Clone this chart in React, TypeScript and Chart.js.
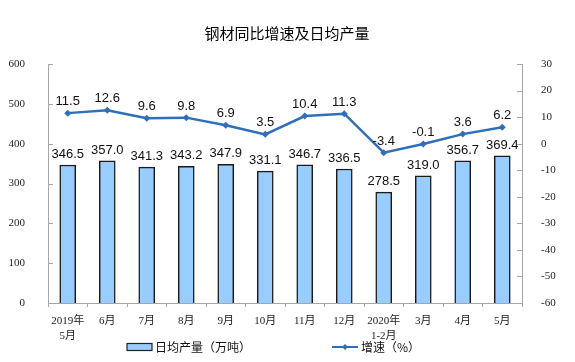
import React, { useEffect, useRef } from "react";
import { Chart, registerables } from "chart.js";

Chart.register(...registerables);

const categories: (string | string[])[] = [
  ["2019年", "5月"], "6月", "7月", "8月", "9月", "10月", "11月", "12月",
  ["2020年", "1-2月"], "3月", "4月", "5月",
];
const output = [346.5, 357.0, 341.3, 343.2, 347.9, 331.1, 346.7, 336.5, 278.5, 319.0, 356.7, 369.4];
const growth = [11.5, 12.6, 9.6, 9.8, 6.9, 3.5, 10.4, 11.3, -3.4, -0.1, 3.6, 6.2];
const title = "钢材同比增速及日均产量";
const barLegend = "日均产量（万吨）";
const lineLegend = "增速（%）";

const BAR_FILL = "#99CCFF";
const LINE_COLOR = "#2F6EBA";
const AXIS_COLOR = "#A6A6A6";
const SERIF = "'Liberation Serif', 'Noto Sans CJK SC', serif";
const SANS = "'Liberation Sans', Arial, sans-serif";
const CJK = "'Noto Sans CJK SC', sans-serif";

const decorPlugin = {
  id: "decor",
  afterDraw(chart: any) {
    const ctx = chart.ctx as CanvasRenderingContext2D;
    const area = chart.chartArea;
    ctx.save();
    // title
    ctx.fillStyle = "#000";
    ctx.font = `15px ${CJK}`;
    ctx.textAlign = "center";
    ctx.textBaseline = "middle";
    ctx.fillText(title, 287, 33);

    // y tick marks inside
    ctx.strokeStyle = AXIS_COLOR;
    ctx.lineWidth = 1;
    const yL = chart.scales.y;
    yL.ticks.forEach((t: any) => {
      const py = Math.round(yL.getPixelForValue(t.value)) + 0.5;
      ctx.beginPath();
      ctx.moveTo(area.left, py);
      ctx.lineTo(area.left + 5, py);
      ctx.stroke();
    });
    const yR = chart.scales.y1;
    yR.ticks.forEach((t: any) => {
      const py = Math.round(yR.getPixelForValue(t.value)) + 0.5;
      ctx.beginPath();
      ctx.moveTo(area.right - 5, py);
      ctx.lineTo(area.right, py);
      ctx.stroke();
    });

    // data labels
    ctx.fillStyle = "#111";
    ctx.font = `13px ${SANS}`;
    ctx.textAlign = "center";
    ctx.textBaseline = "alphabetic";
    const barMeta = chart.getDatasetMeta(0);
    barMeta.data.forEach((el: any, i: number) => {
      ctx.fillText(output[i].toFixed(1), el.x, el.y - 7);
    });
    const lineMeta = chart.getDatasetMeta(1);
    lineMeta.data.forEach((el: any, i: number) => {
      ctx.fillText(growth[i].toFixed(1), el.x, el.y - 8);
    });

    // legend
    const ly = 347;
    ctx.fillStyle = BAR_FILL;
    ctx.fillRect(127, ly - 3.5, 25, 7);
    ctx.strokeStyle = "#222";
    ctx.lineWidth = 1.2;
    ctx.strokeRect(127, ly - 3.5, 25, 7);
    ctx.fillStyle = "#111";
    ctx.font = `12px ${CJK}`;
    ctx.textAlign = "left";
    ctx.textBaseline = "middle";
    ctx.fillText(barLegend, 155, ly);

    ctx.strokeStyle = LINE_COLOR;
    ctx.lineWidth = 2;
    ctx.beginPath();
    ctx.moveTo(332, ly);
    ctx.lineTo(358, ly);
    ctx.stroke();
    ctx.fillStyle = LINE_COLOR;
    ctx.beginPath();
    ctx.moveTo(345, ly - 3);
    ctx.lineTo(348, ly);
    ctx.lineTo(345, ly + 3);
    ctx.lineTo(342, ly);
    ctx.closePath();
    ctx.fill();
    ctx.fillStyle = "#111";
    ctx.fillText(lineLegend, 361, ly);
    ctx.restore();
  },
};

export default function App() {
  const ref = useRef<HTMLCanvasElement>(null);
  useEffect(() => {
    if (!ref.current) return;
    const chart = new Chart(ref.current, {
      type: "bar",
      data: {
        labels: categories as any,
        datasets: [
          {
            type: "bar",
            label: barLegend,
            data: output,
            backgroundColor: BAR_FILL,
            borderColor: "#1a1a1a",
            borderWidth: 1.5,
            barThickness: 16,
            yAxisID: "y",
            order: 2,
          },
          {
            type: "line",
            label: lineLegend,
            data: growth,
            borderColor: LINE_COLOR,
            backgroundColor: LINE_COLOR,
            borderWidth: 2.5,
            pointStyle: "rectRot",
            pointRadius: 3.5,
            pointBorderWidth: 0,
            yAxisID: "y1",
            order: 1,
          } as any,
        ],
      },
      options: {
        animation: false,
        responsive: false,
        devicePixelRatio: 1,
        layout: { padding: { top: 64, left: 0, right: 0, bottom: 0 } },
        plugins: {
          legend: { display: false },
          tooltip: { enabled: false },
          title: { display: false },
        },
        scales: {
          x: {
            offset: true,
            grid: {
              display: true,
              offset: true,
              drawOnChartArea: false,
              tickLength: 4,
              color: AXIS_COLOR,
            },
            border: { color: AXIS_COLOR, width: 1 },
            ticks: {
              color: "#222",
              font: { family: SERIF, size: 11, lineHeight: 1.4 },
              padding: 6,
              maxRotation: 0,
              autoSkip: false,
            },
            afterFit: (s: any) => {
              s.height = 59;
            },
          },
          y: {
            position: "left",
            min: 0,
            max: 600,
            ticks: {
              stepSize: 100,
              color: "#222",
              font: { family: SERIF, size: 11 },
              padding: 15,
            },
            grid: { display: false },
            border: { color: AXIS_COLOR, width: 1 },
            afterFit: (s: any) => {
              s.width = 48;
            },
          },
          y1: {
            position: "right",
            min: -60,
            max: 30,
            ticks: {
              stepSize: 10,
              color: "#222",
              font: { family: SERIF, size: 11 },
              padding: 11,
            },
            grid: { display: false },
            border: { color: AXIS_COLOR, width: 1 },
            afterFit: (s: any) => {
              s.width = 53;
            },
          },
        },
      },
      plugins: [decorPlugin],
    });
    return () => chart.destroy();
  }, []);
  return (
    <div style={{ position: "absolute", left: 0, top: 0, width: 575, height: 362, background: "#fff" }}>
      <canvas ref={ref} width={575} height={362} style={{ width: 575, height: 362 }} />
    </div>
  );
}
